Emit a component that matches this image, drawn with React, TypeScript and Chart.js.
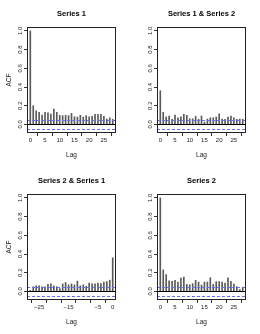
import React, { useEffect, useRef } from 'react';
import { Chart, registerables } from 'chart.js';

Chart.register(...registerables);

const lagsPos = [0, 1, 2, 3, 4, 5, 6, 7, 8, 9, 10, 11, 12, 13, 14, 15, 16, 17, 18, 19, 20, 21, 22, 23, 24, 25, 26, 27, 28];
const lagsNeg = [-28, -27, -26, -25, -24, -23, -22, -21, -20, -19, -18, -17, -16, -15, -14, -13, -12, -11, -10, -9, -8, -7, -6, -5, -4, -3, -2, -1, 0];

const acfSeries1 = [1.0, 0.2, 0.146, 0.13, 0.1, 0.13, 0.125, 0.11, 0.165, 0.13, 0.097, 0.093, 0.097, 0.093, 0.118, 0.082, 0.079, 0.097, 0.079, 0.093, 0.082, 0.086, 0.107, 0.107, 0.107, 0.086, 0.057, 0.071, 0.054];
const ccfSeries1Series2 = [0.36, 0.13, 0.08, 0.09, 0.054, 0.1, 0.07, 0.08, 0.107, 0.097, 0.06, 0.06, 0.086, 0.054, 0.09, 0.025, 0.057, 0.071, 0.071, 0.079, 0.114, 0.057, 0.054, 0.079, 0.089, 0.071, 0.054, 0.057, 0.054];
const ccfSeries2Series1 = [0.01, 0.05, 0.06, 0.06, 0.05, 0.05, 0.075, 0.08, 0.06, 0.05, 0.03, 0.08, 0.095, 0.07, 0.08, 0.07, 0.11, 0.06, 0.07, 0.055, 0.09, 0.08, 0.08, 0.09, 0.085, 0.1, 0.105, 0.12, 0.36];
const acfSeries2 = [1.0, 0.23, 0.18, 0.114, 0.107, 0.118, 0.1, 0.143, 0.154, 0.075, 0.071, 0.082, 0.118, 0.1, 0.068, 0.1, 0.1, 0.146, 0.075, 0.104, 0.104, 0.1, 0.089, 0.146, 0.107, 0.079, 0.05, 0.02, 0.046];

const yTicks = [0, 0.2, 0.4, 0.6, 0.8, 1.0];
const xTicksPos = [0, 5, 10, 15, 20, 25];
const xLabelsPos = ['0', '5', '10', '15', '20', '25'];
const xTicksNeg = [-25, -20, -15, -10, -5, 0];
const xLabelsNeg = ['\u221225', '', '\u221215', '', '\u22125', '0'];
const ciBound = 0.05;

const FONT = '"Liberation Sans", Arial, Helvetica, sans-serif';

type PanelProps = {
  title: string;
  lags: number[];
  values: number[];
  xTicks: number[];
  xLabels: string[];
  showYLabel: boolean;
  left: number;
  top: number;
};

function Panel({ title, lags, values, xTicks, xLabels, showYLabel, left, top }: PanelProps) {
  const ref = useRef<HTMLCanvasElement>(null);
  useEffect(() => {
    if (!ref.current) return;
    const xMin = Math.min(...lags);
    const xMax = Math.max(...lags);
    const xPad = (xMax - xMin) * 0.04;
    const yLo = -ciBound;
    const yHi = 1;
    const yPad = (yHi - yLo) * 0.04;

    const overlay = {
      id: 'acfOverlay',
      afterDatasetsDraw(chart: any) {
        const { ctx, chartArea: a, scales } = chart;
        const y = scales.y;
        ctx.save();
        ctx.lineWidth = 1;
        ctx.strokeStyle = '#000';
        const y0 = Math.round(y.getPixelForValue(0)) + 0.5;
        ctx.beginPath();
        ctx.moveTo(a.left, y0);
        ctx.lineTo(a.right, y0);
        ctx.stroke();
        ctx.strokeStyle = '#6a6aff';
        ctx.setLineDash([3, 2]);
        for (const v of [ciBound, -ciBound]) {
          const py = Math.round(y.getPixelForValue(v)) + 0.5;
          ctx.beginPath();
          ctx.moveTo(a.left, py);
          ctx.lineTo(a.right, py);
          ctx.stroke();
        }
        ctx.setLineDash([]);
        ctx.strokeStyle = '#222';
        ctx.strokeRect(Math.round(a.left) + 0.5, Math.round(a.top) + 0.5, Math.round(a.width) - 1, Math.round(a.height) - 1);
        ctx.restore();
      },
    };

    const tickGrid = {
      drawOnChartArea: false,
      drawTicks: true,
      tickLength: 3,
      tickColor: '#333',
      color: '#333',
      lineWidth: 1,
    };

    const chart = new Chart(ref.current, {
      type: 'bar',
      data: {
        datasets: [
          {
            data: lags.map((l, i) => ({ x: l, y: values[i] })),
            backgroundColor: '#5a5a5a',
            borderWidth: 0,
            barThickness: 1,
          },
        ],
      },
      options: {
        animation: false,
        responsive: false,
        devicePixelRatio: 1,
        layout: { padding: { left: 0, right: 14, top: 0, bottom: 0 } },
        plugins: {
          legend: { display: false },
          tooltip: { enabled: false },
          title: {
            display: true,
            text: title,
            fullSize: false,
            color: '#000',
            font: { family: FONT, size: 7.5, weight: 'bold' },
            padding: { top: 9, bottom: 9 },
          },
        },
        scales: {
          x: {
            type: 'linear',
            min: xMin - xPad,
            max: xMax + xPad,
            offset: false,
            afterBuildTicks: (s: any) => {
              s.ticks = xTicks.map((v) => ({ value: v }));
            },
            afterFit: (s: any) => {
              s.height = 34;
            },
            grid: tickGrid,
            border: { display: false },
            ticks: {
              autoSkip: false,
              maxRotation: 0,
              minRotation: 0,
              padding: 1,
              color: '#222',
              font: { family: FONT, size: 6 },
              callback: (_v: any, i: number) => xLabels[i],
            },
            title: {
              display: true,
              text: 'Lag',
              color: '#222',
              font: { family: FONT, size: 6.5 },
              padding: { top: 0, bottom: 8 },
            },
          },
          y: {
            type: 'linear',
            min: yLo - yPad,
            max: yHi + yPad,
            afterBuildTicks: (s: any) => {
              s.ticks = yTicks.map((v) => ({ value: v }));
            },
            afterFit: (s: any) => {
              s.width = 27;
            },
            grid: tickGrid,
            border: { display: false },
            ticks: {
              autoSkip: false,
              minRotation: 90,
              maxRotation: 90,
              crossAlign: 'center',
              padding: -1,
              color: '#222',
              font: { family: FONT, size: 6 },
              callback: (v: any) => Number(v).toFixed(1),
            },
            title: {
              display: showYLabel,
              text: 'ACF',
              color: '#222',
              font: { family: FONT, size: 6.5 },
              padding: { top: 5, bottom: 0 },
            },
          },
        },
      } as any,
      plugins: [overlay],
    });
    return () => chart.destroy();
  }, []);
  return (
    <div style={{ position: 'absolute', left, top, width: 130, height: 167 }}>
      <canvas ref={ref} width={130} height={167} style={{ display: 'block', width: 130, height: 167 }} />
    </div>
  );
}

export default function App() {
  return (
    <div style={{ position: 'fixed', left: 0, top: 0, width: 260, height: 334, background: '#fff' }}>
      <Panel title="Series 1" lags={lagsPos} values={acfSeries1} xTicks={xTicksPos} xLabels={xLabelsPos} showYLabel={true} left={0} top={0} />
      <Panel title="Series 1 & Series 2" lags={lagsPos} values={ccfSeries1Series2} xTicks={xTicksPos} xLabels={xLabelsPos} showYLabel={false} left={130} top={0} />
      <Panel title="Series 2 & Series 1" lags={lagsNeg} values={ccfSeries2Series1} xTicks={xTicksNeg} xLabels={xLabelsNeg} showYLabel={true} left={0} top={167} />
      <Panel title="Series 2" lags={lagsPos} values={acfSeries2} xTicks={xTicksPos} xLabels={xLabelsPos} showYLabel={false} left={130} top={167} />
    </div>
  );
}
